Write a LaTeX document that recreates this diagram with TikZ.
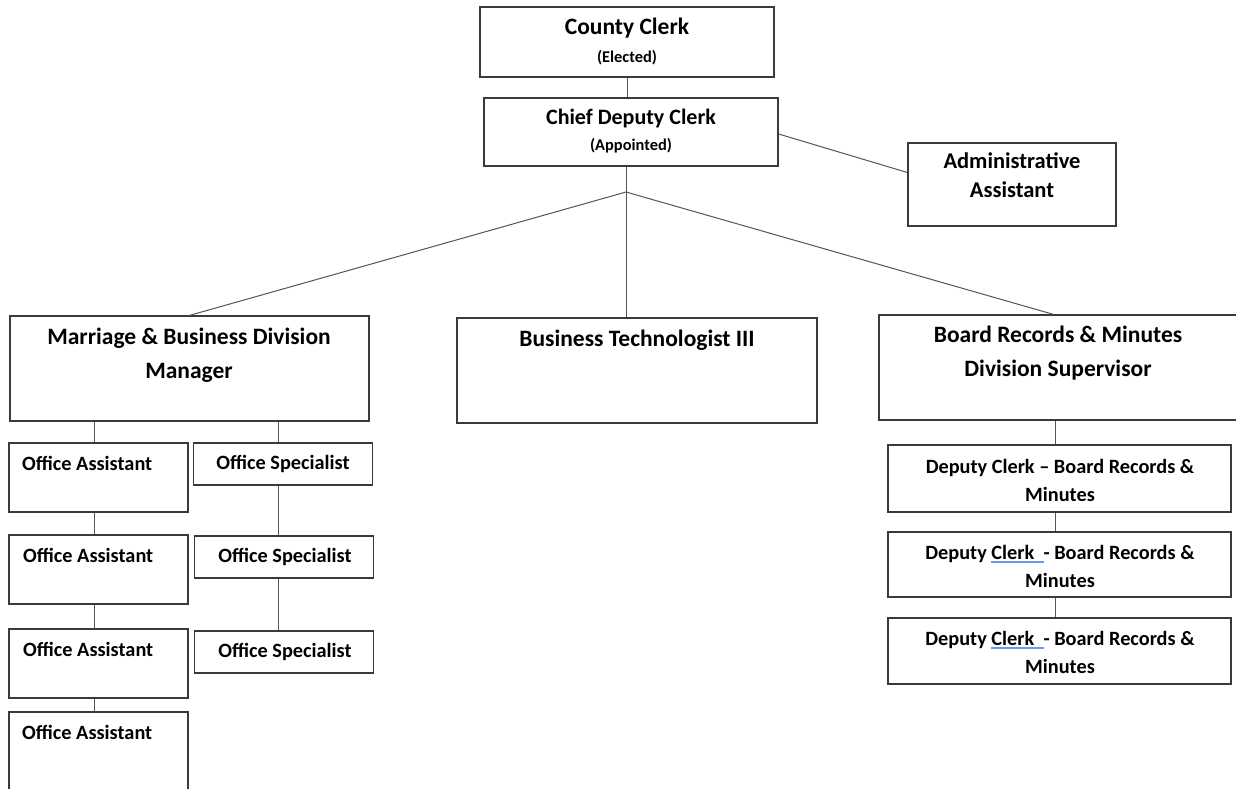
\documentclass[tikz,border=0pt]{standalone}
\usepackage{fontspec}
\setmainfont{Carlito}
\definecolor{boxline}{HTML}{3A3A3A}
\definecolor{linkline}{HTML}{555555}
\definecolor{spellblue}{HTML}{6D9AE6}
\newcommand{\spellmark}[1]{\leavevmode\setbox0\hbox{#1}\rlap{\color{spellblue}\rule[-4pt]{\wd0}{2pt}}\box0}
\tikzset{
  box/.style={draw=boxline, line width=1.2pt, inner sep=0pt},
  link/.style={draw=linkline, line width=1pt},
  big/.style={font=\bfseries\fontsize{23.5}{34}\selectfont, align=center, inner sep=0pt},
  small/.style={font=\bfseries\fontsize{16.4}{19}\selectfont, inner sep=0pt},
  mid/.style={font=\bfseries\fontsize{20.3}{28}\selectfont, align=center, inner sep=0pt}
}
\begin{document}
\begin{tikzpicture}[x=1pt, y=-1pt]
  \useasboundingbox (0,0) rectangle (1236,788);
  \fill[white] (0,0) rectangle (1236,788);
  \clip (0,0) rectangle (1236,788);
  % top of the office
  \node[box, minimum width=294, minimum height=70] (cc) at (627,42) {};
  \node[big] (cclabel) at (627,28) {County Clerk};
  \node[small] (ccnote) at (627,58) {(Elected)};
  \node[box, minimum width=294, minimum height=68] (cdc) at (631,132) {};
  \node[big, font=\bfseries\fontsize{22}{26}\selectfont] (cdclabel) at (631,119) {Chief Deputy Clerk};
  \node[small] (cdcnote) at (631,146) {(Appointed)};
  \node[box, minimum width=208, minimum height=83] (adm) at (1012,184.5) {};
  \node[mid, font=\bfseries\fontsize{22.5}{29}\selectfont] (admlabel) at (1012,175.5) {Administrative\\Assistant};
  % divisions
  \node[box, minimum width=359, minimum height=105] (mbd) at (189.5,368.5) {};
  \node[big] (mbdlabel) at (189,355) {Marriage \& Business Division\\Manager};
  \node[box, minimum width=360, minimum height=105] (bt) at (637,370.5) {};
  \node[big] (btlabel) at (637,340) {Business Technologist III};
  \node[box, minimum width=361, minimum height=105] (brm) at (1059.5,367.5) {};
  \node[big] (brmlabel) at (1058,353.5) {Board Records \& Minutes\\Division Supervisor};
  % marriage and business staff
  \node[box, minimum width=179, minimum height=69] (oa1) at (98.5,477.5) {};
  \node[box, minimum width=179, minimum height=69] (oa2) at (98.5,569.5) {};
  \node[box, minimum width=179, minimum height=69] (oa3) at (98.5,663.5) {};
  \node[box, minimum width=179, minimum height=100] (oa4) at (98.5,762) {};
  \node[mid, anchor=west] (oa1label) at (22,463) {Office Assistant};
  \node[mid, anchor=west] (oa2label) at (23,555) {Office Assistant};
  \node[mid, anchor=west] (oa3label) at (23,649) {Office Assistant};
  \node[mid, anchor=west] (oa4label) at (22,732) {Office Assistant};
  \node[box, minimum width=179, minimum height=42] (os1) at (283,464) {};
  \node[box, minimum width=179, minimum height=42] (os2) at (284,557) {};
  \node[box, minimum width=179, minimum height=42] (os3) at (284,652) {};
  \node[mid] (os1label) at (283,464) {Office Specialist};
  \node[mid] (os2label) at (285,557) {Office Specialist};
  \node[mid] (os3label) at (285,652) {Office Specialist};
  % board records staff
  \node[box, minimum width=343, minimum height=67] (dc1) at (1059.5,478.5) {};
  \node[box, minimum width=343, minimum height=65] (dc2) at (1059.5,564.5) {};
  \node[box, minimum width=343, minimum height=66] (dc3) at (1059.5,651) {};
  \node[mid] (dc1label) at (1060,480) {Deputy Clerk -- Board Records \&\\Minutes};
  \node[mid] (dc2label) at (1060,566) {Deputy \spellmark{Clerk\ \ }- Board Records \&\\Minutes};
  \node[mid] (dc3label) at (1060,652) {Deputy \spellmark{Clerk\ \ }- Board Records \&\\Minutes};
  % lines
  \coordinate (hub) at (626,192);
  \draw[link] (cc.south) -- (cc.south |- cdc.north);
  \draw[link] ([yshift=-2pt]cdc.east) -- ([yshift=12pt]adm.west);
  \draw[link] (hub |- cdc.south) -- (hub |- bt.north);
  \draw[link] (mbd.north) -- (hub) -- ([xshift=-6pt]brm.north);
  \draw[link] ([xshift=-4pt]oa1.north) -- ([xshift=-4pt]oa1.north |- mbd.south);
  \draw[link] ([xshift=-5pt]os1.north) -- ([xshift=-5pt]os1.north |- mbd.south);
  \draw[link] ([xshift=-4pt]oa1.south) -- ([xshift=-4pt]oa2.north);
  \draw[link] ([xshift=-4pt]oa2.south) -- ([xshift=-4pt]oa3.north);
  \draw[link] ([xshift=-4pt]oa3.south) -- ([xshift=-4pt]oa4.north);
  \draw[link] ([xshift=-5pt]os1.south) -- ([xshift=-6pt]os2.north);
  \draw[link] ([xshift=-6pt]os2.south) -- ([xshift=-6pt]os3.north);
  \draw[link] ([xshift=-4pt]dc1.north) -- ([xshift=-4pt]dc1.north |- brm.south);
  \draw[link] ([xshift=-4pt]dc1.south) -- ([xshift=-4pt]dc2.north);
  \draw[link] ([xshift=-4pt]dc2.south) -- ([xshift=-4pt]dc3.north);
\end{tikzpicture}
\end{document}
